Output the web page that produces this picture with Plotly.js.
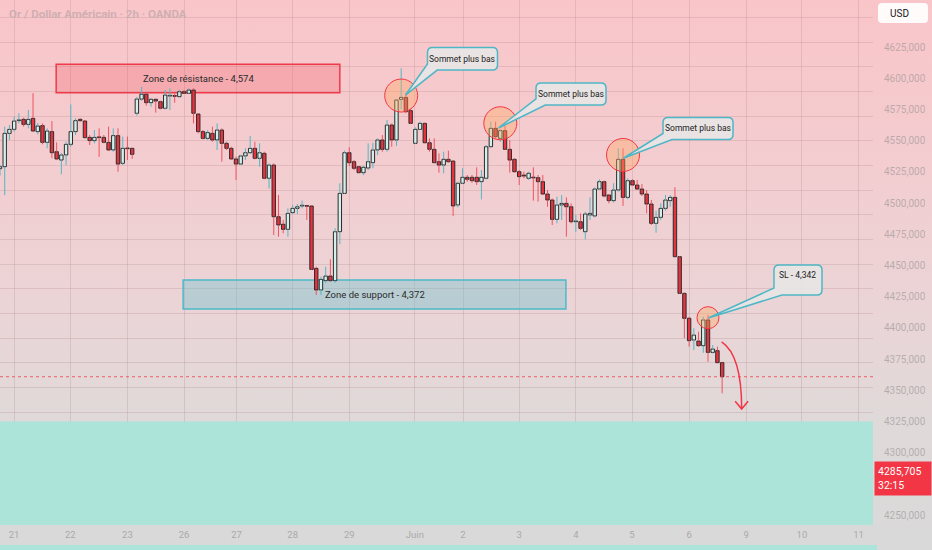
<!DOCTYPE html>
<html>
<head>
<meta charset="utf-8">
<script src="https://cdn.plot.ly/plotly-3.0.1.min.js"></script>
<style>
html,body{margin:0;padding:0;width:932px;height:550px;overflow:hidden;}
body{background:linear-gradient(to bottom,#f9c5c9 0%,#f3cdd0 30%,#ebd4d6 55%,#e0d9d9 76%,#d9d9d9 100%);}
#chart{width:932px;height:550px;}
</style>
</head>
<body>
<div id="chart"></div>
<script>
// ---- 2h candles ----
const opens = [
4527.5,4529.1,4555.8,4559.0,4566.0,4567.0,4563.0,4567.8,4557.2,4562.0,
4548.6,4557.2,4541.1,4534.4,4538.5,4547.0,4557.2,4567.0,4565.7,4552.6,
4550.0,4552.6,4552.6,4548.6,4542.5,4554.0,4531.8,4543.8,4543.8,4571.9,
4583.2,4587.2,4580.4,4583.1,4581.2,4575.9,4585.7,4585.7,4585.2,4589.2,
4587.9,4590.5,4571.3,4557.2,4551.8,4555.8,4550.5,4558.5,4547.8,4543.8,
4535.3,4531.2,4537.7,4540.3,4543.8,4535.8,4539.8,4519.8,4530.4,4489.0,
4483.0,4478.9,4492.3,4495.7,4497.6,4497.6,4497.6,4447.6,4430.3,4437.8,
4441.5,4437.8,4477.0,4507.7,4540.3,4533.1,4529.1,4524.3,4528.0,4532.3,
4542.5,4550.5,4543.0,4562.5,4550.5,4583.0,4584.6,4574.0,4547.8,4559.0,
4563.8,4548.3,4543.0,4533.1,4530.4,4535.0,4533.6,4498.4,4515.8,4520.6,
4520.6,4520.6,4517.1,4519.8,4545.1,4559.8,4551.8,4558.0,4543.0,4535.0,
4525.1,4522.4,4519.8,4520.3,4520.3,4517.1,4507.2,4502.4,4486.9,4498.4,
4499.7,4497.0,4485.0,4485.0,4477.0,4490.4,4489.6,4511.2,4517.1,4506.4,
4501.9,4510.4,4535.0,4504.5,4517.9,4514.4,4511.2,4507.2,4499.2,4483.7,
4488.5,4495.7,4501.9,4504.5,4457.0,4427.6,4407.6,4390.2,4389.4,4385.7,
4406.3,4380.3,4381.7,4372.1];
const highs = [
4530.4,4561.1,4562.5,4569.2,4571.9,4568.4,4574.5,4588.0,4564.0,4563.8,
4559.8,4565.7,4548.6,4540.0,4549.1,4579.0,4567.8,4568.0,4566.5,4554.5,
4558.5,4559.8,4554.5,4561.2,4559.8,4559.8,4553.2,4553.2,4544.3,4585.0,
4593.0,4588.5,4584.0,4583.5,4582.0,4590.5,4591.9,4587.9,4590.5,4590.5,
4591.9,4591.9,4571.9,4558.5,4558.5,4561.2,4563.8,4559.8,4549.1,4545.1,
4537.1,4538.5,4543.8,4553.7,4549.1,4547.8,4541.1,4531.8,4531.8,4506.4,
4486.4,4495.7,4498.4,4499.2,4501.9,4498.0,4498.1,4449.0,4441.0,4449.0,
4454.9,4479.7,4515.8,4541.9,4544.6,4534.4,4529.6,4529.6,4547.8,4548.3,
4551.8,4554.5,4566.5,4563.8,4583.0,4607.9,4587.9,4575.9,4560.6,4565.2,
4564.4,4551.8,4551.8,4539.8,4541.1,4541.9,4534.4,4517.1,4527.8,4522.4,
4522.4,4528.6,4526.4,4546.5,4565.2,4565.2,4559.0,4561.7,4550.5,4535.8,
4526.4,4525.1,4525.1,4528.6,4522.4,4522.4,4510.4,4503.7,4505.0,4506.4,
4504.5,4499.7,4490.4,4491.7,4493.0,4504.5,4512.5,4519.0,4517.9,4507.2,
4515.8,4543.8,4543.8,4519.8,4519.0,4518.4,4515.2,4510.4,4502.4,4493.8,
4499.7,4506.4,4506.4,4512.6,4457.5,4428.2,4408.9,4399.6,4396.9,4408.9,
4410.2,4386.2,4384.9,4372.8];
const lows = [
4522.0,4506.4,4550.5,4557.2,4563.8,4561.2,4559.8,4557.2,4555.0,4547.0,
4543.8,4535.8,4534.4,4523.0,4530.4,4545.1,4554.5,4565.0,4551.8,4546.5,
4547.8,4537.0,4547.8,4541.7,4541.1,4525.1,4530.4,4534.5,4535.3,4570.0,
4582.0,4578.0,4577.2,4572.4,4575.0,4575.0,4574.5,4580.4,4584.6,4587.3,
4587.3,4563.8,4555.8,4551.0,4550.5,4549.1,4542.5,4533.1,4542.5,4534.5,
4518.4,4530.4,4534.5,4539.3,4535.0,4529.1,4519.0,4511.7,4474.4,4473.0,
4475.7,4473.0,4491.2,4491.2,4495.7,4486.4,4446.3,4426.3,4426.3,4436.0,
4437.0,4436.2,4467.0,4507.2,4529.6,4526.4,4523.8,4522.4,4526.4,4527.8,
4538.5,4541.1,4541.1,4545.1,4545.7,4575.0,4571.9,4563.3,4547.3,4558.5,
4547.8,4541.1,4531.8,4524.3,4523.8,4532.3,4489.6,4496.5,4515.2,4517.1,
4516.3,4514.4,4502.9,4519.0,4544.6,4551.8,4549.1,4542.5,4524.3,4524.3,
4514.4,4519.8,4518.4,4501.9,4501.1,4506.4,4497.0,4482.4,4483.7,4486.4,
4473.0,4483.7,4477.0,4478.4,4470.9,4486.4,4488.5,4510.4,4504.5,4499.7,
4500.3,4509.1,4497.6,4503.0,4513.6,4510.4,4505.6,4491.7,4482.4,4476.2,
4486.4,4493.8,4497.0,4456.5,4427.1,4391.6,4384.9,4382.2,4384.9,4380.0,
4372.8,4379.5,4371.5,4347.5];
const closes = [
4529.1,4555.8,4559.0,4565.7,4566.6,4563.0,4567.0,4557.7,4561.7,4548.6,
4557.7,4540.3,4535.3,4538.5,4547.0,4557.2,4566.0,4566.0,4552.4,4550.0,
4552.6,4552.4,4548.6,4542.5,4554.0,4531.2,4543.8,4543.5,4539.0,4583.3,
4587.2,4580.4,4583.1,4581.7,4575.9,4586.5,4585.9,4585.5,4589.2,4587.9,
4590.5,4571.9,4557.2,4551.8,4556.4,4550.5,4558.5,4547.8,4543.8,4535.3,
4531.2,4537.7,4540.3,4543.8,4535.8,4540.3,4519.8,4530.4,4489.0,4482.4,
4478.9,4491.7,4495.7,4497.0,4497.8,4497.4,4446.8,4430.3,4438.8,4441.5,
4437.8,4477.0,4507.7,4540.3,4532.3,4527.8,4524.3,4528.6,4533.1,4542.5,
4550.5,4543.0,4562.5,4550.5,4582.5,4584.6,4573.2,4563.8,4559.0,4563.8,
4548.3,4543.0,4532.3,4530.4,4535.0,4533.1,4497.6,4515.8,4520.6,4519.0,
4517.9,4517.1,4520.6,4545.1,4559.8,4553.2,4558.0,4543.0,4534.4,4525.1,
4521.1,4521.6,4523.8,4520.1,4517.1,4507.2,4502.4,4486.9,4498.4,4499.7,
4497.0,4485.0,4485.3,4479.7,4491.2,4491.7,4511.2,4517.1,4505.6,4501.9,
4510.4,4535.0,4504.5,4517.9,4514.4,4511.2,4507.2,4499.2,4483.7,4488.5,
4495.7,4502.4,4504.5,4457.0,4427.6,4407.6,4389.7,4394.2,4385.7,4406.3,
4380.3,4383.0,4372.1,4360.8];

// ---- axis ticks ----
const dayTickPos    = [2.97,14.9,27.0,39.0,50.1,62.0,74.0,87.9,98.1,110.0,122.0,133.9,146.0,158.1,169.9,181.9];
const dayTickLabels = ['21','22','23','26','27','28','29','Juin','2','3','4','5','6','9','10','11'];
const priceTicks    = [4250,4300,4325,4350,4375,4400,4425,4450,4475,4500,4525,4550,4575,4600,4625];
const currentPrice  = 4285.705;
const countdown     = '32:15';

// ---- drawings ----
const resistanceZone = {x0:11.9, x1:72.0, y0:4588.4, y1:4611.1, label:'Zone de résistance - 4,574'};
const supportZone    = {x0:38.8, x1:119.9, y0:4415.0, y1:4438.3, label:'Zone de support - 4,372'};
const targetZoneTop  = 4325;
const calloutBar     = [85, 106, 132, 150];
const calloutPrice   = [4586.1, 4563.9, 4538.5, 4408.1];
const calloutText    = ['Sommet plus bas','Sommet plus bas','Sommet plus bas','SL - 4,342'];
const calloutRadius  = [16.5, 16.5, 16.5, 11];
const arrowBar = 153, arrowPrice = 4388.8;

const X_RANGE = [0, 184.96];
const Y_RANGE = [4242.0, 4662.66];
const GRID = 'rgba(165,120,125,0.22)';

// wick segments (high->body top, body bottom->low), split by direction
const wx = {up:[], dn:[]}, wy = {up:[], dn:[]};
opens.forEach((o, i) => {
  const c = closes[i], top = Math.max(o, c), bot = Math.min(o, c);
  const k = c >= o ? 'up' : 'dn';
  wx[k].push(i, i, null, i, i, null);
  wy[k].push(highs[i], top, null, bot, lows[i], null);
});
const idx = opens.map((_, i) => i);
const isUp = opens.map((o, i) => closes[i] >= o);

const traces = [
  {type:'scatter', mode:'lines', x:wx.up, y:wy.up, line:{color:'#52b8c4', width:1}, hoverinfo:'skip'},
  {type:'scatter', mode:'lines', x:wx.dn, y:wy.dn, line:{color:'#ef5361', width:1}, hoverinfo:'skip'},
  {type:'bar', x:idx,
   base: opens.map((o, i) => Math.min(o, closes[i])),
   y: opens.map((o, i) => Math.max(Math.abs(closes[i] - o), 0.6)),
   width: 0.72,
   marker:{color: isUp.map(u => u ? '#d3f0ec' : '#e8323f'), line:{color:'#2b2b2b', width:1}},
   hoverinfo:'skip'},
  {type:'scatter', x:[], y:[], yaxis:'y2', hoverinfo:'skip'}
];

// speech-bubble outline in screen pixels relative to the anchor (y flipped for plotly pixel mode)
const bubbleGeom = [
  {tip:[4.3,-0.5], L:26.3, R:96.3,  T:-48,   B:-25.5, p1y:-31.5, p2x:36, ty:-36.75},
  {tip:[-1.8,4.7], L:35.7, R:105.7, T:-40.3, B:-18.3, p1y:-24.3, p2x:45, ty:-29.3},
  {tip:[0.3,3.3],  L:40,   R:110,   T:-37.5, B:-15.5, p1y:-21.5, p2x:49, ty:-26.5},
  {tip:[0.3,0.3],  L:66,   R:114,   T:-52.7, B:-22.7, p1y:-29.7, p2x:74, ty:-42.7}
];
function bubblePath(g){
  const r = 5;
  return [
    `M${g.tip[0]},${-g.tip[1]}`,
    `L${g.L},${-g.p1y}`,
    `L${g.L},${-(g.T + r)}`,
    `Q${g.L},${-g.T} ${g.L + r},${-g.T}`,
    `L${g.R - r},${-g.T}`,
    `Q${g.R},${-g.T} ${g.R},${-(g.T + r)}`,
    `L${g.R},${-(g.B - r)}`,
    `Q${g.R},${-g.B} ${g.R - r},${-g.B}`,
    `L${g.p2x},${-g.B}`,
    'Z'].join(' ');
}

const shapes = [
  // date strip + teal sliver below it (beneath the axis labels)
  {type:'rect', xref:'paper', yref:'paper', x0:0, x1:932/873, y0:-20/525, y1:0,
   fillcolor:'#d9d9d9', line:{width:0}, layer:'below'},
  {type:'rect', xref:'paper', yref:'paper', x0:0, x1:877/873, y0:-25/525, y1:-20/525,
   fillcolor:'#ace4da', line:{width:0}, layer:'below'},
  // target zone (teal) at the bottom of the plot, covers the grid
  {type:'rect', xref:'paper', yref:'y', x0:0, x1:1, y0:Y_RANGE[0], y1:targetZoneTop,
   fillcolor:'#ace4da', line:{width:0}, layer:'above'},
  // zones
  {type:'rect', xref:'x', yref:'y', x0:resistanceZone.x0, x1:resistanceZone.x1, y0:resistanceZone.y0, y1:resistanceZone.y1,
   fillcolor:'rgba(242,60,75,0.22)', line:{color:'#ef3a49', width:1.5}, layer:'between'},
  {type:'rect', xref:'x', yref:'y', x0:supportZone.x0, x1:supportZone.x1, y0:supportZone.y0, y1:supportZone.y1,
   fillcolor:'rgba(95,195,205,0.36)', line:{color:'#4cb9c9', width:1.5}, layer:'between'},
  // last price dotted line
  {type:'line', xref:'paper', yref:'y', x0:0, x1:1, y0:closes[closes.length-1], y1:closes[closes.length-1],
   line:{color:'rgba(242,54,69,0.75)', width:1, dash:'dot'}},
];
calloutBar.forEach((b, k) => {
  const r = calloutRadius[k];
  shapes.push({type:'circle', xref:'x', yref:'y', xsizemode:'pixel', ysizemode:'pixel',
    xanchor:b, yanchor:calloutPrice[k], x0:-r, x1:r, y0:-r, y1:r,
    fillcolor:'rgba(255,165,95,0.38)', line:{color:'#f23645', width:1}});
});
calloutBar.forEach((b, k) => {
  shapes.push({type:'path', xref:'x', yref:'y', xsizemode:'pixel', ysizemode:'pixel',
    xanchor:b, yanchor:calloutPrice[k], path:bubblePath(bubbleGeom[k]),
    fillcolor:'rgba(232,230,230,0.9)', line:{color:'#4fb6c6', width:1.5}});
});
// curved red arrow
shapes.push({type:'path', xref:'x', yref:'y', xsizemode:'pixel', ysizemode:'pixel',
  xanchor:arrowBar, yanchor:arrowPrice,
  path:'M-0.5,0 Q19.5,-13.3 19.5,-66.6 M13,-59.5 L19.5,-67.3 L26,-59.5',
  fillcolor:'rgba(0,0,0,0)', line:{color:'#f23645', width:1.5}});
// USD box (rounded)
shapes.push({type:'path', xref:'paper', yref:'paper', xsizemode:'pixel', ysizemode:'pixel',
  xanchor:1, yanchor:1,
  path:'M9,-3 L51,-3 Q55,-3 55,-7 L55,-19 Q55,-23 51,-23 L9,-23 Q5,-23 5,-19 L5,-7 Q5,-3 9,-3 Z',
  fillcolor:'rgba(255,255,255,0.92)', line:{width:0}});

const annotations = [
  {xref:'paper', yref:'paper', x:0, y:1, xshift:7, yshift:-14, xanchor:'left', yanchor:'middle',
   text:'Or / Dollar Américain · 2h · OANDA', showarrow:false,
   font:{family:'Roboto', size:11.5, weight:600, color:'#cdaeb1'}},
  {xref:'x', yref:'y', x:(resistanceZone.x0+resistanceZone.x1)/2, y:(resistanceZone.y0+resistanceZone.y1)/2,
   text:resistanceZone.label, showarrow:false, font:{family:'Roboto', size:9.5, color:'#2a2a2a'}},
  {xref:'x', yref:'y', x:(supportZone.x0+supportZone.x1)/2, y:(supportZone.y0+supportZone.y1)/2,
   text:supportZone.label, showarrow:false, font:{family:'Roboto', size:9.5, color:'#2a2a2a'}},
  {xref:'paper', yref:'y', x:1, y:currentPrice, xanchor:'left', yanchor:'top', xshift:1, yshift:9.4,
   text:currentPrice.toFixed(3).replace('.', ',') + '<br>' + countdown, align:'left', showarrow:false,
   bgcolor:'#f23645', borderpad:3, width:50, font:{family:'Roboto', size:10.5, color:'#ffffff'}},
  {xref:'paper', yref:'paper', x:1, y:1, xanchor:'left', yanchor:'middle', xshift:15, yshift:-13,
   text:'USD', showarrow:false, font:{family:'Roboto', size:10, color:'#131722'}}
];
calloutBar.forEach((b, k) => {
  const g = bubbleGeom[k];
  annotations.push({xref:'x', yref:'y', x:b, y:calloutPrice[k], xshift:(g.L+g.R)/2, yshift:-g.ty,
    text:calloutText[k], showarrow:false, font:{family:'Roboto', size:8.5, color:'#222222'}});
});

const layout = {
  width:932, height:550,
  margin:{l:0, r:59, t:0, b:25, pad:0},
  paper_bgcolor:'rgba(0,0,0,0)', plot_bgcolor:'rgba(0,0,0,0)',
  showlegend:false, hovermode:false, barmode:'overlay',
  font:{family:'Roboto'},
  xaxis:{range:X_RANGE, tickmode:'array', tickvals:dayTickPos, ticktext:dayTickLabels,
         showgrid:true, gridcolor:GRID, gridwidth:1, zeroline:false, showline:false, ticks:'',
         tickfont:{family:'Roboto', size:9.5, color:'#a9a9a9'}, ticklabelstandoff:2, fixedrange:true},
  yaxis:{range:Y_RANGE, showgrid:true, gridcolor:GRID, gridwidth:1, tick0:4332.5, dtick:19.75,
         showticklabels:false, zeroline:false, ticks:'', showline:false, fixedrange:true},
  yaxis2:{range:Y_RANGE, overlaying:'y', anchor:'x', side:'right', showgrid:false, zeroline:false,
          tickmode:'array', tickvals:priceTicks, ticktext:priceTicks.map(v => v.toFixed(3).replace('.', ',')),
          ticks:'', ticklabelstandoff:10, showline:false,
          tickfont:{family:'Roboto', size:10, color:'rgba(150,145,145,0.6)'}, fixedrange:true},
  shapes:shapes,
  annotations:annotations
};

Plotly.newPlot('chart', traces, layout, {displayModeBar:false, staticPlot:true});
</script>
</body>
</html>
